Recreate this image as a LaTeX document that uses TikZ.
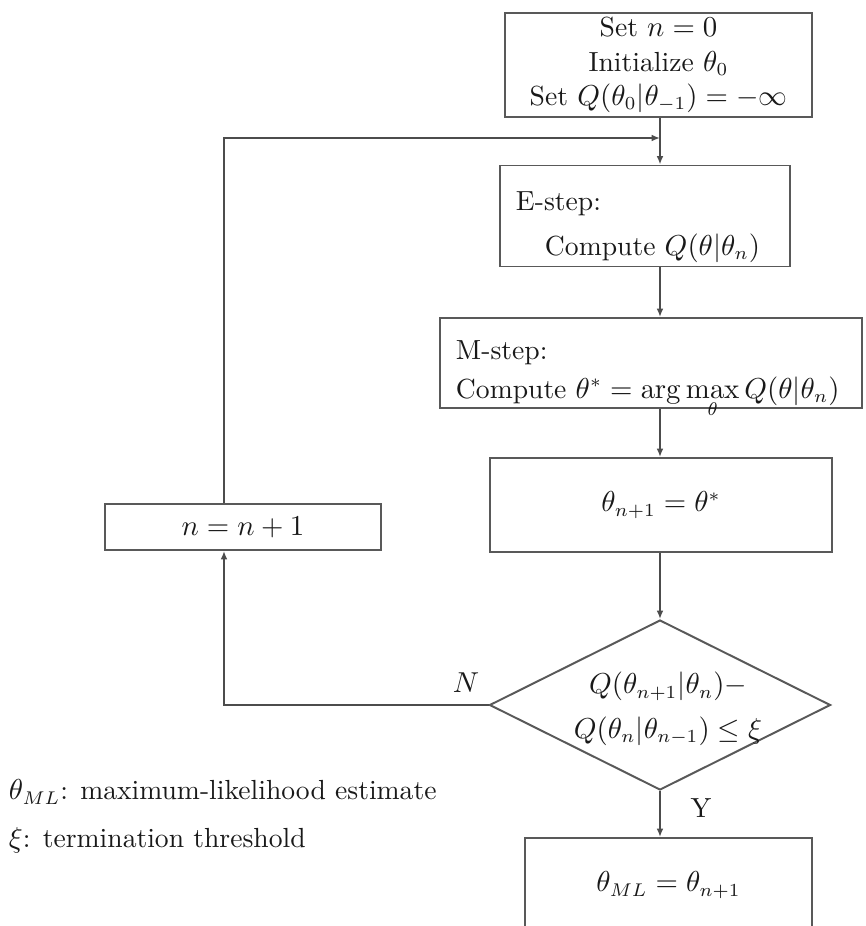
\documentclass[tikz,border=0pt]{standalone}
\usetikzlibrary{arrows.meta,shapes.geometric}
\begin{document}
\begin{tikzpicture}[x=0.38pt,y=-0.38pt,
  line width=0.75pt,
  every node/.style={text=black!90},
  procbox/.style={draw=black!65,minimum width=#1*0.38pt,inner sep=0pt},
  arr/.style={draw=black!70,-{Latex[length=3.2pt,width=2.6pt]}},
  txt/.style={font=\fontsize{10.5}{10}\selectfont,inner sep=0pt}]
\useasboundingbox (0,0) rectangle (865,926);

% spine of the main loop and x of the feedback path
\coordinate (spine) at (660,0);
\coordinate (loopx) at (224,0);

% process boxes
\node[procbox=307,minimum height=104*0.38pt,txt,align=center] (init) at (658.5,65)
  {Set $n=0$\\[3pt] Initialize $\theta_0$\\[3pt] Set $Q(\theta_0|\theta_{-1})=-\infty$};
\node[procbox=290,minimum height=101*0.38pt] (estep) at (645,216) {};
\node[txt,anchor=west] (elab) at (515,204) {E-step:};
\node[txt,anchor=west] (ecomp) at (544,248) {Compute $Q(\theta|\theta_n)$};

\node[procbox=422,minimum height=90*0.38pt] (mstep) at (651,363) {};
\node[txt,anchor=west] (mlab) at (455,353) {M-step:};
\node[txt,anchor=base west] (mcomp) at (455,398)
  {Compute $\theta^{*}=\arg\max\limits_{\theta} Q(\theta|\theta_n)$};

\node[procbox=342,minimum height=94*0.38pt,txt] (upd) at (661,505) {$\theta_{n+1}=\theta^{*}$};

\node[draw=black!65,diamond,aspect=2,inner sep=0pt,
  minimum width=341*0.38pt,minimum height=170*0.38pt] (dia) at (660,705) {};
\node[txt,align=center] (cond) at (668,709)
  {$Q(\theta_{n+1}|\theta_n)-$\\[5pt]$Q(\theta_n|\theta_{n-1})\leq\xi$};

\node[procbox=276,minimum height=46*0.38pt,txt] (inc) at (243,527) {$n=n+1$};

\node[procbox=287,minimum height=94*0.38pt,txt] (final) at (668.5,885) {$\theta_{ML}=\theta_{n+1}$};

% connectors
\coordinate (join) at (660,138);
\draw[arr] (init.south -| spine) -- (estep.north -| spine);
\draw[arr] (estep.south -| spine) -- (mstep.north -| spine);
\draw[arr] (mstep.south -| spine) -- (upd.north -| spine);
\draw[arr] (upd.south -| spine) -- (dia.north);
\draw[arr] (dia.south) -- (final.north -| dia.south);
\draw[arr] (dia.west) -| (inc.south -| loopx);
\draw[arr] (inc.north -| loopx) |- (join);

% branch labels
\node[txt] (nlab) at (466,683) {$N$};
\node[txt] (ylab) at (701,808) {Y};

% legend
\node[txt,anchor=west] (leg1) at (8,792) {$\theta_{ML}$: maximum-likelihood estimate};
\node[txt,anchor=west] (leg2) at (8,840) {$\xi$: termination threshold};
\end{tikzpicture}
\end{document}
